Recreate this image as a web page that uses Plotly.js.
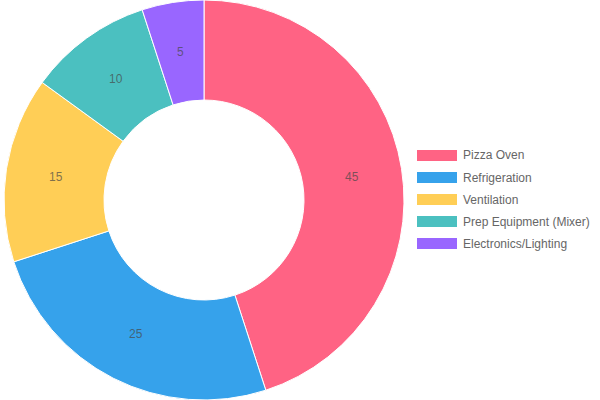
<!DOCTYPE html>
<html>
<head>
<meta charset="utf-8">
<script src="https://cdn.plot.ly/plotly-3.0.1.min.js"></script>
<style>html,body{margin:0;padding:0;background:#fff;}#chart{width:600px;height:400px;}</style>
</head>
<body>
<div id="chart"></div>
<script>
const categories = ["Pizza Oven", "Refrigeration", "Ventilation", "Prep Equipment (Mixer)", "Electronics/Lighting"];
const values = [45, 25, 15, 10, 5];
const colors = ["#FF6384", "#36A2EB", "#FFCE56", "#4BC0C0", "#9966FF"];

const W = 600, H = 400;
const HOLE = 0.5;
const dom = {x: [4/W, 404/W], y: [0, 1]};
const trace = {
  type: 'pie',
  labels: categories,
  values: values,
  hole: HOLE,
  sort: false,
  direction: 'clockwise',
  rotation: 0,
  marker: {colors: colors, line: {color: '#ffffff', width: 1}},
  textinfo: 'none',
  domain: dom,
  showlegend: false,
  hoverinfo: 'label+value'
};

const shapes = [], annotations = [];
// value labels at the middle of the ring, mid-angle of each slice (derived from the data)
const total = values.reduce((a, b) => a + b, 0);
const cx = (dom.x[0] + dom.x[1]) / 2 * W, cyc = H / 2;
const R = Math.min((dom.x[1] - dom.x[0]) * W, (dom.y[1] - dom.y[0]) * H) / 2;
const rMid = R * (1 + HOLE) / 2;
let cum = 0;
values.forEach((v, i) => {
  const th = 2 * Math.PI * (cum + v / 2) / total;
  cum += v;
  annotations.push({xref: 'paper', yref: 'paper',
    x: (cx + rMid * Math.sin(th)) / W, y: 1 - (cyc - rMid * Math.cos(th)) / H,
    xanchor: 'center', yanchor: 'middle', showarrow: false, text: String(v),
    font: {family: 'Liberation Sans, Arial, sans-serif', size: 12, color: 'rgba(70,70,70,0.7)'}});
});

const legX = 417, boxW = 40, boxH = 11, legY0 = 155.5, legStep = 22;
categories.forEach((c, i) => {
  const ly = legY0 + i * legStep;
  shapes.push({type: 'rect', xref: 'paper', yref: 'paper',
    x0: legX / W, x1: (legX + boxW) / W, y0: 1 - (ly - boxH/2) / H, y1: 1 - (ly + boxH/2) / H,
    fillcolor: colors[i], line: {width: 0}});
  annotations.push({xref: 'paper', yref: 'paper', x: (legX + boxW + 4) / W, y: 1 - ly / H,
    xanchor: 'left', yanchor: 'middle', showarrow: false, text: c,
    font: {family: 'Liberation Sans, Arial, sans-serif', size: 12, color: '#666666'}});
});

const layout = {
  width: W, height: H,
  margin: {l: 0, r: 0, t: 0, b: 0},
  paper_bgcolor: '#ffffff',
  showlegend: false,
  shapes: shapes,
  annotations: annotations
};
Plotly.newPlot('chart', [trace], layout, {displayModeBar: false, staticPlot: true});
</script>
</body>
</html>
